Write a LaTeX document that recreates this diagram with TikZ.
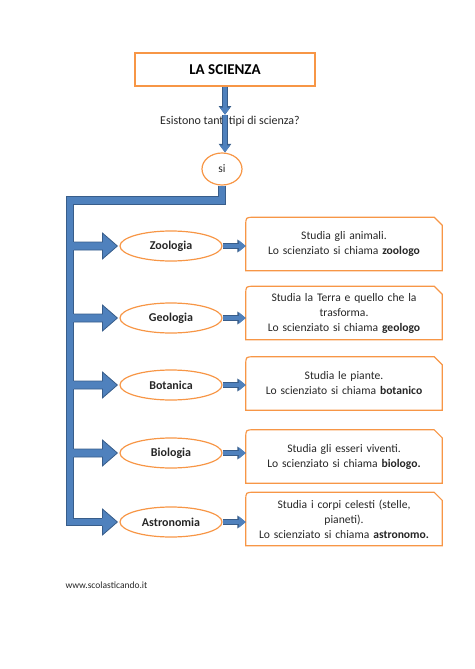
\documentclass[tikz,border=0pt]{standalone}
\usepackage{fontspec}
\setmainfont{Carlito}
\usetikzlibrary{arrows.meta,positioning,calc,shapes.geometric}
\definecolor{boxorange}{HTML}{F79646}
\definecolor{arrowblue}{HTML}{4F81BD}
\definecolor{arrowedge}{HTML}{385D8A}
\definecolor{textgray}{HTML}{262626}
\tikzset{
	titlebox/.style={draw=boxorange, line width=1.4pt, minimum width=180pt,
		minimum height=33pt, inner sep=0pt, font=\fontsize{15}{17}\selectfont\bfseries},
	scienza/.style={ellipse, draw=boxorange, line width=1.2pt, minimum width=102pt,
		minimum height=30pt, inner sep=0pt, text=textgray,
		font=\fontsize{12}{14}\selectfont\bfseries},
	infobox/.style={minimum width=196pt, minimum height=53pt, text width=188pt,
		align=center, inner sep=0pt, text=textgray,
		font=\fontsize{11.6}{15}\selectfont},
	infoline/.style={draw=boxorange, line width=1.2pt},
	bluearrow/.style={draw=arrowblue, line width=4pt,
		-{Triangle[width=10pt,length=7pt]},
		preaction={draw=arrowedge, line width=5.4pt, -{Triangle[width=12pt,length=8.5pt]}}},
	smallarrow/.style={draw=arrowblue, line width=4.4pt,
		-{Triangle[width=11pt,length=7pt]},
		preaction={draw=arrowedge, line width=5.6pt, -{Triangle[width=12.5pt,length=8.5pt]}}},
	edgeline/.style={draw=arrowedge, line width=0.8pt, line join=miter}
}
\begin{document}
\begin{tikzpicture}[x=1pt, y=-1pt]
	\useasboundingbox (0,0) rectangle (474,669);
	
	% Title and question
	\node[titlebox] (title) at (225,69.5) {LA SCIENZA};
	\node[text=textgray, inner sep=1pt, font=\fontsize{12}{14}\selectfont]
		(question) at (230,121) {Esistono tanti tipi di scienza?};
	\node[ellipse, draw=boxorange, line width=1.2pt, minimum width=40pt,
		minimum height=32pt, inner sep=0pt, text=textgray,
		font=\fontsize{11.5}{13}\selectfont] (si) at (222,169) {si};
	\coordinate (qtop) at (title.south |- question.north);
	\draw[bluearrow] (title.south) -- (qtop);
	\draw[bluearrow] (qtop) -- (qtop |- si.north);
	
	% Sciences
	\node[scienza] (zoo) at (171,246) {Zoologia};
	\node[scienza] (geo) at (171,318) {Geologia};
	\node[scienza] (bot) at (171,385) {Botanica};
	\node[scienza] (bio) at (171,453) {Biologia};
	\node[scienza] (ast) at (171,522) {Astronomia};
	
	% Descriptions
	\node[infobox] (zoo-info) at (344,244) {Studia gli animali.\\
		Lo scienziato si chiama \textbf{zoologo}};
	\node[infobox] (geo-info) at (344,313) {Studia la Terra e quello che la\\
		trasforma.\\ Lo scienziato si chiama \textbf{geologo}};
	\node[infobox] (bot-info) at (344,383.5) {Studia le piante.\\
		Lo scienziato si chiama \textbf{botanico}};
	\node[infobox] (bio-info) at (344,456.5) {Studia gli esseri viventi.\\
		Lo scienziato si chiama \textbf{biologo.}};
	\node[infobox] (ast-info) at (344,519) {Studia i corpi celesti (stelle,\\
		pianeti).\\ Lo scienziato si chiama \textbf{astronomo.}};
	\foreach \b in {zoo-info,geo-info,bot-info,bio-info,ast-info} {
		\draw[infoline] (\b.south west) -- ($(\b.north west)+(0,8)$)
			.. controls (\b.north west) .. ($(\b.north west)+(8,0)$)
			-- ($(\b.north east)+(-8,0)$) -- ($(\b.north east)+(0,8)$)
			-- (\b.south east) -- cycle;
	}
	
	% Trunk
	\coordinate (trunktop) at (70,200.5);
	\draw[arrowedge, line width=8.4pt] (si.south) -- (si.south |- trunktop)
		-- (trunktop) -- (trunktop |- ast.west) -- ($(ast.west)+(-16,0)$);
	\draw[arrowblue, line width=6.6pt] (si.south) -- (si.south |- trunktop)
		-- (trunktop) -- (trunktop |- ast.west) -- ($(ast.west)+(-16,0)$);
	
	% Branch arrows
	\foreach \e in {zoo,geo,bot,bio} {
		\fill[arrowblue] ($(\e.west -| trunktop)+(0,-4)$) -- ($(\e.west)+(-17,-4)$)
			-- ($(\e.west)+(-17,-13)$) -- ($(\e.west)+(-2,0)$) -- ($(\e.west)+(-17,13)$)
			-- ($(\e.west)+(-17,4)$) -- ($(\e.west -| trunktop)+(0,4)$) -- cycle;
		\draw[edgeline] ($(\e.west -| trunktop)+(4.2,-4)$) -- ($(\e.west)+(-17,-4)$)
			-- ($(\e.west)+(-17,-13)$) -- ($(\e.west)+(-2,0)$) -- ($(\e.west)+(-17,13)$)
			-- ($(\e.west)+(-17,4)$) -- ($(\e.west -| trunktop)+(4.2,4)$);
	}
	\fill[arrowblue] ($(ast.west)+(-17.5,-3.3)$) -- ($(ast.west)+(-17,-3.3)$)
		-- ($(ast.west)+(-17,-13)$) -- ($(ast.west)+(-2,0)$) -- ($(ast.west)+(-17,13)$)
		-- ($(ast.west)+(-17,3.3)$) -- ($(ast.west)+(-17.5,3.3)$) -- cycle;
	\draw[edgeline] ($(ast.west)+(-17,-4.2)$) -- ($(ast.west)+(-17,-13)$)
		-- ($(ast.west)+(-2,0)$) -- ($(ast.west)+(-17,13)$) -- ($(ast.west)+(-17,4.2)$);
	
	% Small arrows to descriptions
	\foreach \e in {zoo,geo,bot,bio,ast} {
		\draw[smallarrow] (\e.east) -- (\e.east -| \e-info.west);
	}
	
	% Footer
	\node[text=textgray, font=\fontsize{9.5}{11}\selectfont, anchor=west]
		(site) at (62,585) {www.scolasticando.it};
\end{tikzpicture}
\end{document}
